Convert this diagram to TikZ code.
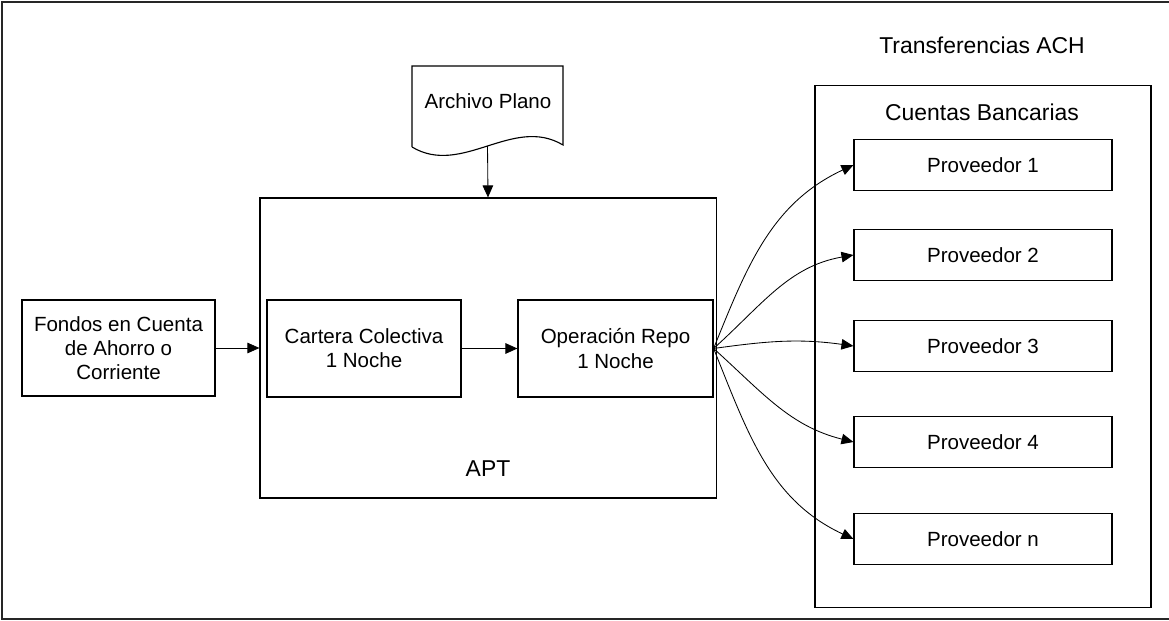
\documentclass[tikz,border=0pt]{standalone}
\usepackage{fontspec}
\setmainfont{Liberation Sans}
\usetikzlibrary{arrows.meta}

\tikzset{
    caja/.style={draw, line width=0.8pt, align=center, inner sep=0pt},
    titulo/.style={font=\fontsize{16.3}{19}\selectfont},
    flecha/.style={-{Triangle[length=8.5pt, width=7.5pt]}, line width=0.6pt},
}

\begin{document}
\begin{tikzpicture}[x=0.025cm, y=0.025cm, font=\fontsize{14.6}{17.2}\selectfont]
    \useasboundingbox (0,0) rectangle (1169,620);
    % 外框
    \draw[line width=0.9pt, black!85] (2,1) rectangle (1175,618);

    % 左侧
    \node[caja, minimum width=4.825cm, minimum height=2.4cm] (fondos) at (118.5,272)
        {Fondos en Cuenta\\de Ahorro o\\Corriente};

    % APT
    \node[caja, minimum width=11.4cm, minimum height=7.5cm] (apt) at (488,272) {};
    \node[titulo] (aptlabel) at (488,151) {APT};
    \node[caja, minimum width=4.85cm, minimum height=2.425cm] (cartera) at (364,271.5)
        {Cartera Colectiva\\1 Noche};
    \node[caja, minimum width=4.875cm, minimum height=2.425cm] (repo) at (615.5,271.5)
        {Operación Repo\\1 Noche};

    % 文件
    \draw[line width=0.8pt] (412,473) -- (412,554) -- (563,554) -- (563,475)
        .. controls (513,505) and (462,443) .. (412,473);
    \coordinate (docbase) at (487.5,474);
    \node (archivo) at (488,519) {Archivo Plano};

    % 右侧
    \node[titulo] (ach) at (982,575) {Transferencias ACH};
    \node[caja, minimum width=8.4cm, minimum height=13.025cm] (cuentas) at (983,273.5) {};
    \node[titulo] (bancarias) at (982,508) {Cuentas Bancarias};
    \foreach \n/\y/\o/\i in {1/455/68/205, 2/365/42/190, 3/274/8/172, 4/178/-42/166, n/81/-68/155} {
        \node[caja, minimum width=6.45cm, minimum height=1.275cm] (p\n) at (983,\y) {Proveedor \n};
        \draw[flecha] (repo.east) to[out=\o, in=\i] (p\n.west);
    }

    % 箭头
    \draw[flecha] (docbase) -- (apt.north);
    \draw[flecha] (fondos.east) -- (fondos.east -| apt.west);
    \draw[flecha] (cartera) -- (repo);
\end{tikzpicture}
\end{document}
